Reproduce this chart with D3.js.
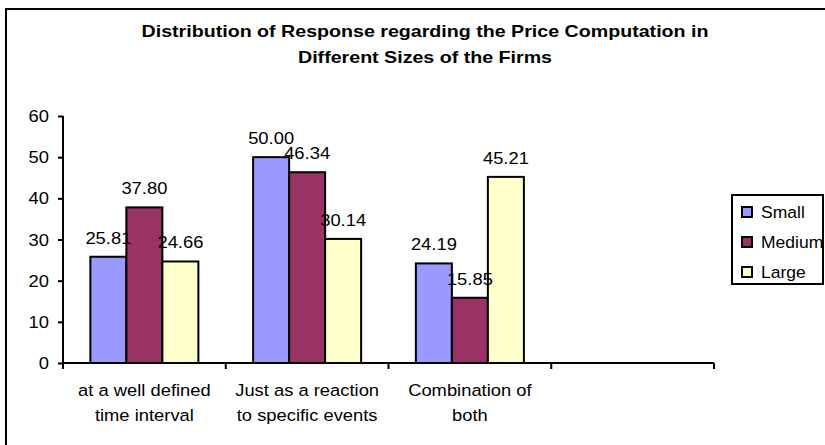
<!DOCTYPE html>
<html>
<head>
<meta charset="utf-8">
<script src="https://cdn.jsdelivr.net/npm/d3@7"></script>
<style>
  html, body { margin: 0; padding: 0; background: #fff; }
  svg { display: block; font-family: "Liberation Sans", Arial, sans-serif; }
</style>
</head>
<body>
<div id="chart"></div>
<script>
const categories = [
  ['at a well defined', 'time interval'],
  ['Just as a reaction', 'to specific events'],
  ['Combination of', 'both'],
  ['']
];
const seriesNames = ['Small', 'Medium', 'Large'];
const small = [25.81, 50.00, 24.19, null];
const medium = [37.80, 46.34, 15.85, null];
const large = [24.66, 30.14, 45.21, null];
const yTicks = [0, 10, 20, 30, 40, 50, 60];
const colors = ['#9999ff', '#993366', '#ffffcc'];

const W = 825, H = 445;
const m = { l: 63, r: 111, t: 116, b: 82 };
const sx = 1.08; // the source renders text slightly wide

const svg = d3.select('#chart').append('svg')
  .attr('width', W).attr('height', H);

// put a text at (x, y) with a horizontal stretch
function stext(sel, x, y, str, size, anchor, k) {
  return sel.append('text')
    .attr('transform', `translate(${x},${y}) scale(${k || sx},1)`)
    .attr('text-anchor', anchor || 'middle')
    .attr('font-size', size || 17)
    .attr('fill', '#000')
    .text(str);
}

// outer frame (only top and left visible in the crop)
svg.append('rect')
  .attr('x', 6).attr('y', 9)
  .attr('width', W + 10).attr('height', H + 10)
  .attr('fill', 'none').attr('stroke', '#000').attr('stroke-width', 2);

// title
['Distribution of Response regarding the Price Computation in', 'Different Sizes of the Firms']
  .forEach((ln, k) => {
    svg.append('text')
      .attr('transform', `translate(425,${37 + k * 26}) scale(1.19,1)`)
      .attr('text-anchor', 'middle')
      .attr('font-weight', 'bold').attr('font-size', 16.5)
      .text(ln);
  });

const x0 = d3.scaleBand()
  .domain(d3.range(categories.length))
  .range([m.l, W - m.r]);

const x1 = d3.scaleBand()
  .domain(d3.range(seriesNames.length))
  .range([0, x0.bandwidth()])
  .paddingOuter(0.76).paddingInner(0);

const y = d3.scaleLinear()
  .domain([0, 60])
  .range([H - m.b, m.t]);

const g = svg.append('g');

// y axis
const yAxis = g.append('g')
  .attr('transform', `translate(${m.l},0)`)
  .call(d3.axisLeft(y).tickValues(yTicks).tickSize(5).tickFormat(''));
yAxis.select('.domain').attr('stroke', '#000').attr('stroke-width', 2).attr('d', `M0,${y(60)}V${y(0)}`);
yAxis.selectAll('.tick line').attr('stroke', '#000').attr('stroke-width', 2);
yTicks.forEach(v => stext(g, m.l - 14, y(v) + 6, v, 17, 'end'));

// bars
const seriesData = [small, medium, large];
seriesData.forEach((vals, s) => {
  g.append('g').selectAll('rect')
    .data(vals.map((v, i) => ({ v, i })).filter(d => d.v != null))
    .join('rect')
    .attr('x', d => x0(d.i) + x1(s))
    .attr('y', d => y(d.v))
    .attr('width', x1.bandwidth())
    .attr('height', d => y(0) - y(d.v))
    .attr('fill', colors[s])
    .attr('stroke', '#000').attr('stroke-width', 2);
});

// x axis
const xAxis = g.append('g').attr('transform', `translate(0,${y(0)})`);
xAxis.append('line')
  .attr('x1', m.l).attr('x2', W - m.r)
  .attr('stroke', '#000').attr('stroke-width', 2);
const edges = d3.range(categories.length).map(i => x0(i)).concat([x0.range()[1]]);
xAxis.selectAll('.tk')
  .data(edges)
  .join('line')
  .attr('x1', d => d).attr('x2', d => d)
  .attr('y1', 0).attr('y2', 6)
  .attr('stroke', '#000').attr('stroke-width', 2);

categories.forEach((lines, i) => {
  lines.forEach((ln, k) => {
    stext(xAxis, x0(i) + x0.bandwidth() / 2, 33 + k * 25, ln, 17);
  });
});

// value labels
seriesData.forEach((vals, s) => {
  vals.forEach((v, i) => {
    if (v == null) return;
    stext(g, x0(i) + x1(s) + x1.bandwidth() / 2, y(v) - 13, v.toFixed(2), 17);
  });
});

// legend
const lg = svg.append('g').attr('transform', 'translate(732,195)');
lg.append('rect')
  .attr('width', 91).attr('height', 89)
  .attr('fill', '#fff').attr('stroke', '#000').attr('stroke-width', 2);
seriesNames.forEach((name, s) => {
  const row = lg.append('g').attr('transform', `translate(0,${17 + s * 30})`);
  row.append('rect')
    .attr('x', 10).attr('y', -5).attr('width', 10).attr('height', 10)
    .attr('fill', colors[s]).attr('stroke', '#000').attr('stroke-width', 2);
  stext(row, 29, 6, name, 17, 'start', 1.03);
});
</script>
</body>
</html>
